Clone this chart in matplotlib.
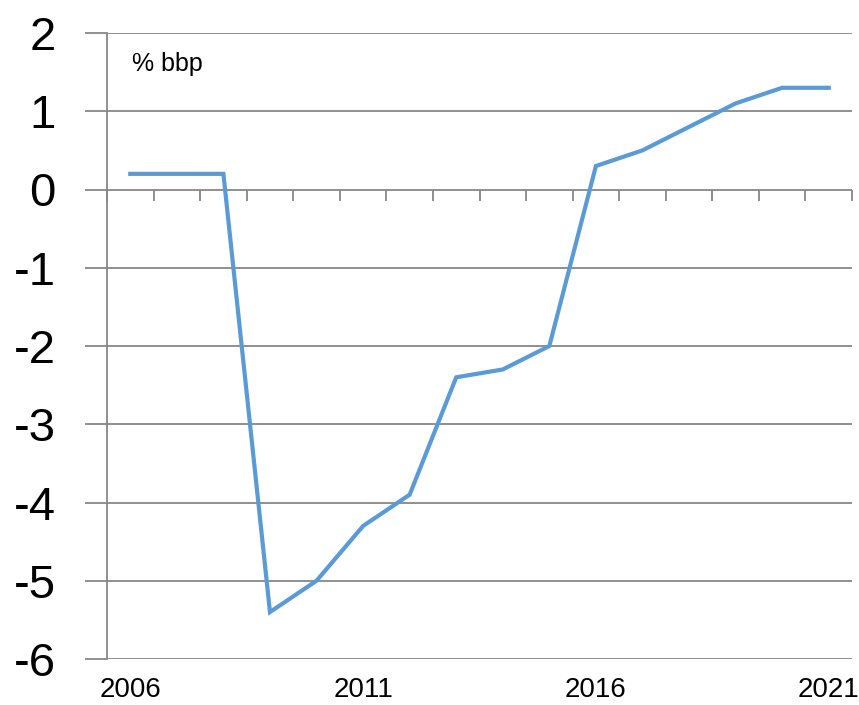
import matplotlib
matplotlib.use("Agg")
import matplotlib.pyplot as plt
import numpy as np

# data
years = list(range(2006, 2022))
values = [0.2, 0.2, 0.2, -5.4, -5.0, -4.3, -3.9, -2.4, -2.3, -2.0,
          0.3, 0.5, 0.8, 1.1, 1.3, 1.3]
label_years = [2006, 2011, 2016, 2021]
y_ticks = [-6, -5, -4, -3, -2, -1, 0, 1, 2]

line_color = "#5b9bd5"
grid_color = "#878787"

plt.rcParams['font.family'] = ['Liberation Sans', 'DejaVu Sans']

fig = plt.figure(figsize=(8.59, 7.05), dpi=100)
ax = fig.add_axes([107 / 859, 46 / 705, 745 / 859, 626 / 705])

x = np.arange(len(years))
ax.plot(x, values, color=line_color, lw=3, solid_joinstyle='miter', zorder=3)

ymin, ymax = y_ticks[0], y_ticks[-1]
ax.set_ylim(ymin, ymax)
ax.set_xlim(-0.5, len(years) - 0.5)

# y axis
ax.set_yticks(y_ticks)
ax.set_yticklabels([str(v) for v in y_ticks])
ax.tick_params(axis='y', direction='out', length=16, width=1.3,
               color=grid_color, labelsize=34, pad=21)
ax.grid(axis='y', color=grid_color, lw=1.3)
ax.set_axisbelow(True)

# x labels at bottom
pos = [years.index(yr) for yr in label_years]
ax.set_xticks(pos)
ax.set_xticklabels([str(yr) for yr in label_years])
ax.tick_params(axis='x', length=0, labelsize=20, pad=13)

for s in ['top', 'right', 'bottom']:
    ax.spines[s].set_visible(False)
ax.spines['left'].set_color(grid_color)
ax.spines['left'].set_linewidth(1.3)

# category ticks along the zero line
zero_frac = (0 - ymin) / (ymax - ymin)
sec = ax.secondary_xaxis(zero_frac)
sec.set_xticks(np.arange(len(years) + 1) - 0.5)
sec.tick_params(direction='out', length=8, width=1.3, color=grid_color,
                labelbottom=False, labeltop=False, bottom=True, top=False)
sec.xaxis.set_ticks_position('bottom')
sec.spines['bottom'].set_color(grid_color)
sec.spines['bottom'].set_linewidth(1.3)
sec.spines['top'].set_visible(False)
sec.set_xticklabels([])

ax.text(0.033, 0.95, "% bbp", transform=ax.transAxes, fontsize=18,
        va='center', ha='left')

fig.savefig("out.png", dpi=100)
